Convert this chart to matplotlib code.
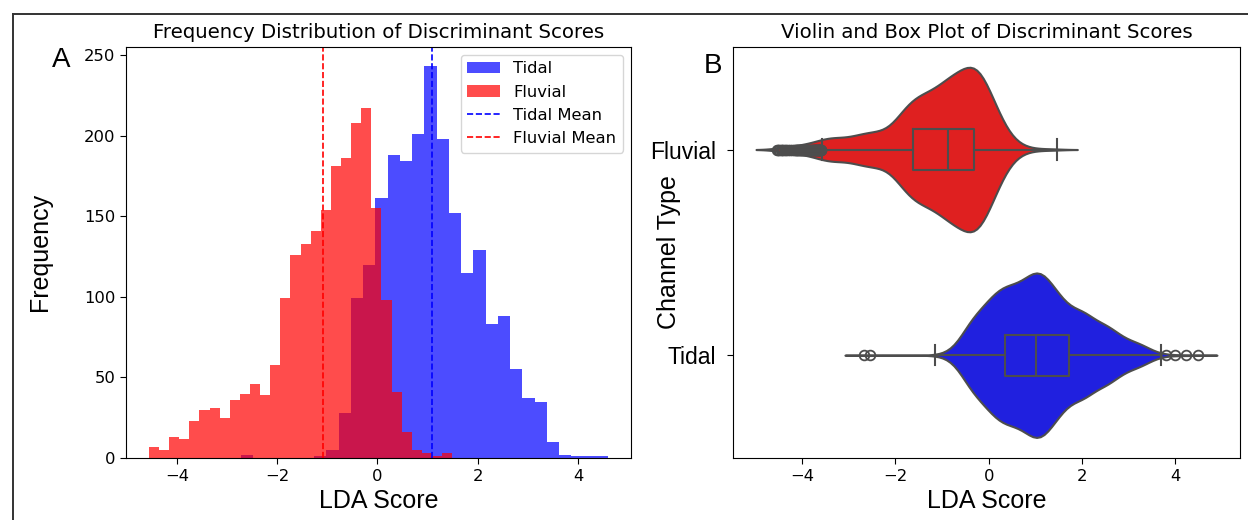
import numpy as np
import pandas as pd
import matplotlib
matplotlib.use("Agg")
import matplotlib.pyplot as plt
from matplotlib.lines import Line2D
import seaborn as sns

# histogram counts (30 bins per class)
fluvial_range = (-4.56, 1.49)
fluvial_counts = [7, 5, 13, 12, 23, 30, 31, 25, 36, 40, 46, 39, 58, 99, 126,
                  133, 141, 154, 181, 186, 208, 217, 155, 98, 41, 16, 5, 3, 1, 3]
tidal_range = (-2.73, 4.60)
tidal_counts = [2, 0, 0, 0, 0, 0, 1, 5, 28, 99, 120, 161, 188, 184, 201,
                243, 198, 152, 115, 129, 83, 88, 55, 37, 35, 10, 2, 1, 1, 1]
channel_types = ['Fluvial', 'Tidal']
colors = {'Fluvial': 'red', 'Tidal': 'blue'}


def expand(rng, counts):
    # turn binned counts back into scores spread evenly inside each bin
    edges = np.linspace(rng[0], rng[1], len(counts) + 1)
    pts = []
    for lo, hi, c in zip(edges[:-1], edges[1:], counts):
        if c > 0:
            pts.append(lo + (hi - lo) * (np.arange(c) + 0.5) / c)
    return edges, np.concatenate(pts)


fl_edges, fluvial = expand(fluvial_range, fluvial_counts)
ti_edges, tidal = expand(tidal_range, tidal_counts)

label_font = 'Liberation Sans'
tick_fs = 11.8

fig = plt.figure(figsize=(12.48, 5.2), dpi=100)
fig.patch.set_facecolor('white')
ax1 = fig.add_axes([126/1248, 62/520, 505/1248, 411.3/520])
ax2 = fig.add_axes([733/1248, 62/520, 507/1248, 411.3/520])

# --- A: histogram
ax1.hist(tidal, bins=ti_edges, color='blue', alpha=0.7, label='Tidal')
ax1.hist(fluvial, bins=fl_edges, color='red', alpha=0.7, label='Fluvial')
ax1.axvline(np.mean(tidal), color='blue', linestyle='--', linewidth=1.2, label='Tidal Mean')
ax1.axvline(np.mean(fluvial), color='red', linestyle='--', linewidth=1.2, label='Fluvial Mean')
ax1.set_title('Frequency Distribution of Discriminant Scores', fontsize=14.2)
ax1.set_xlabel('LDA Score', fontsize=18, fontfamily=label_font)
ax1.set_ylabel('Frequency', fontsize=18, fontfamily=label_font)
ax1.yaxis.set_label_coords(-0.146, 0.5)
ax1.tick_params(labelsize=tick_fs, length=4.1)
ax1.legend(fontsize=tick_fs, loc='upper right')

# --- B: violin + box
df = pd.DataFrame({
    'LDA Score': np.concatenate([fluvial, tidal]),
    'Channel Type': ['Fluvial'] * len(fluvial) + ['Tidal'] * len(tidal),
})
sns.violinplot(data=df, x='LDA Score', y='Channel Type', hue='Channel Type',
               order=channel_types, hue_order=channel_types, palette=colors,
               inner=None, linewidth=1.5, linecolor='#4d4d4d', legend=False, ax=ax2)
gray = '#4d4d4d'
ax2.boxplot([fluvial, tidal], positions=[0, 1], orientation='horizontal',
            widths=0.2, capwidths=0.1, manage_ticks=False, patch_artist=False,
            boxprops=dict(color=gray, linewidth=1.5),
            whiskerprops=dict(color=gray, linewidth=1.5),
            capprops=dict(color=gray, linewidth=1.5),
            medianprops=dict(color=gray, linewidth=1.5),
            flierprops=dict(marker='o', markerfacecolor='none', markeredgecolor=gray,
                            markersize=7, markeredgewidth=1.3),
            zorder=3)
ax2.set_title('Violin and Box Plot of Discriminant Scores', fontsize=14.2)
ax2.set_xlabel('LDA Score', fontsize=18, fontfamily=label_font)
ax2.set_ylabel('Channel Type', fontsize=18, fontfamily=label_font)
ax2.yaxis.set_label_coords(-0.102, 0.5)
ax2.set_yticks([0, 1], channel_types, fontsize=16.5, fontfamily=label_font)
ax2.tick_params(axis='x', labelsize=tick_fs)
ax2.tick_params(length=4.1)
ax2.tick_params(axis='y', pad=8)
ax2.set_ylim(1.5, -0.5)

# panel letters
fig.text(52/1248, 1 - 67.3/520, 'A', fontsize=20, fontfamily=label_font, va='baseline')
fig.text(704/1248, 1 - 73.3/520, 'B', fontsize=20, fontfamily=label_font, va='baseline')

# outer border of the original screenshot
fig.add_artist(Line2D([13/1248, 13/1248], [0, 1 - 14/520], color='#333333', linewidth=1.4,
                      transform=fig.transFigure))
fig.add_artist(Line2D([13/1248, 1], [1 - 14/520, 1 - 14/520], color='#333333', linewidth=1.4,
                      transform=fig.transFigure))

fig.savefig('out.png', dpi=100)
